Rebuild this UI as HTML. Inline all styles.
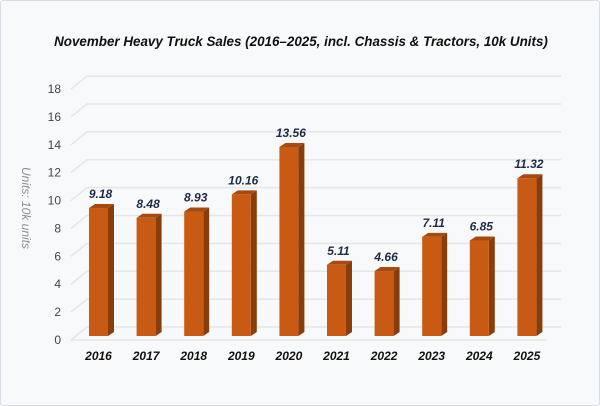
<!DOCTYPE html>
<html><head><meta charset="utf-8">
<style>
html,body{margin:0;padding:0;background:#fff;}
#wrap{position:relative;width:598px;height:404px;border:1px solid #d9dde3;border-radius:3px;background:#f8f9fa;overflow:hidden;}
svg{position:absolute;left:0;top:0;}
text{font-family:"Liberation Sans",sans-serif;}
</style></head><body>
<div id="wrap">
<svg id="chart" width="600" height="406">
<text x="300" y="45" text-anchor="middle" font-size="13.4" font-weight="bold" font-style="italic" fill="#111">November Heavy Truck Sales (2016–2025, incl. Chassis &amp; Tractors, 10k Units)</text>
<text transform="translate(21,207) rotate(90)" text-anchor="middle" font-size="12" font-style="italic" fill="#8a8f96">Units: 10k units</text>
</svg>
</div>
<script>
const categories=['2016','2017','2018','2019','2020','2021','2022','2023','2024','2025'];
const values=[9.18,8.48,8.93,10.16,13.56,5.11,4.66,7.11,6.85,11.32];
const valueLabels=['9.18','8.48','8.93','10.16','13.56','5.11','4.66','7.11','6.85','11.32'];
const yTicks=[0,2,4,6,8,10,12,14,16,18];
const NS='http://www.w3.org/2000/svg';
const svg=document.getElementById('chart');
const y0=335, k=13.94;
const yS=v=>y0-v*k;
const xS=i=>88+i*47.6;
const bw=19, sd=6, td=4;
function mk(t,a){const e=document.createElementNS(NS,t);for(const n in a)e.setAttribute(n,a[n]);svg.appendChild(e);return e;}
yTicks.forEach(t=>{
  const y=yS(t)+4;
  const g=mk('polyline',{points:`${70},${y} ${86},${y-13} ${560},${y-13}`,fill:'none',stroke:'#e3e6ea','stroke-width':1.5});
  
  
  const l=mk('text',{x:60,y:y+4,'text-anchor':'end','font-size':12,fill:'#444'});
  l.textContent=t;
  
  
});
const fl=mk('line',{x1:70,y1:yS(0)+4,x2:545,y2:yS(0)+4,stroke:'#e3e6ea','stroke-width':1.5});


values.forEach((v,i)=>{
  const x=xS(i), yt=yS(v);
  const g=document.createElementNS(NS,'g');svg.appendChild(g);
  
  
  const p=(t,a)=>{const e=document.createElementNS(NS,t);for(const n in a)e.setAttribute(n,a[n]);g.appendChild(e);return e;};
  p('polygon',{points:`${x+bw},${yt} ${x+bw+sd},${yt-td} ${x+bw+sd},${y0-td} ${x+bw},${y0}`,fill:'#8a3d0c'});
  p('polygon',{points:`${x},${yt} ${x+sd},${yt-td} ${x+bw+sd},${yt-td} ${x+bw},${yt}`,fill:'#a64a0f'});
  p('rect',{x:x,y:yt,width:bw,height:y0-yt,fill:'#c85a14'});
  const vl=mk('text',{x:x+bw/2+2,y:yt-10,'text-anchor':'middle','font-size':12,'font-weight':'bold','font-style':'italic',fill:'#1f2a44'});
  vl.textContent=valueLabels[i];
  
  
  const cl=mk('text',{x:x+bw/2,y:359,'text-anchor':'middle','font-size':12,'font-weight':'bold','font-style':'italic',fill:'#111'});
  cl.textContent=categories[i];
  
  
});
</script>
</body></html>
